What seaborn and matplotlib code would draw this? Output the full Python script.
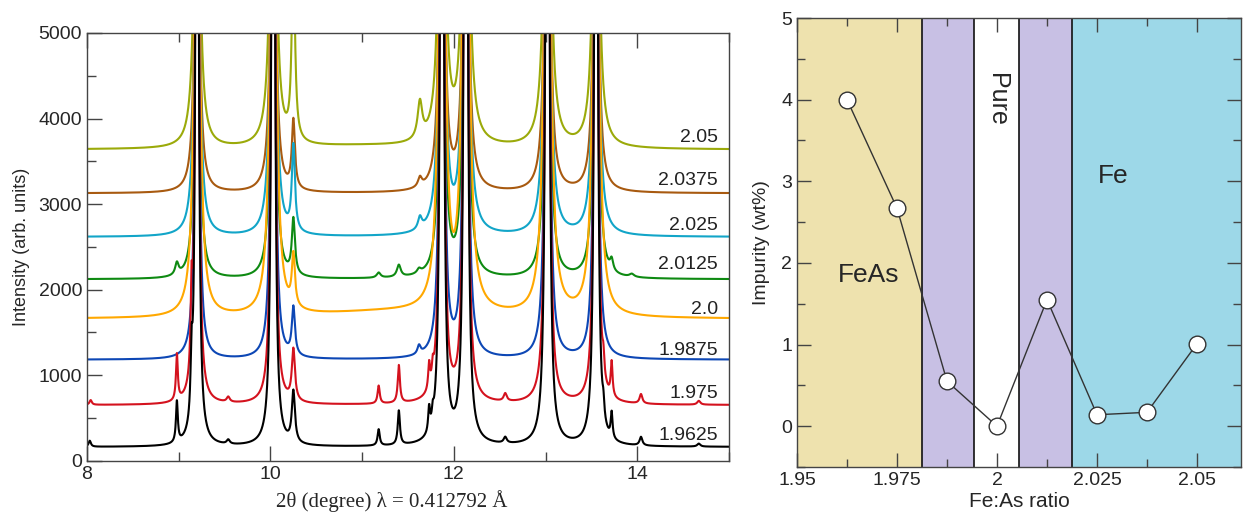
import numpy as np
import pandas as pd
import matplotlib
matplotlib.use("Agg")
import matplotlib.pyplot as plt
from matplotlib.ticker import MultipleLocator
import seaborn as sns

# ---------------- data: left panel (XRD patterns) ----------------
ratios = ["1.9625", "1.975", "1.9875", "2.0", "2.0125", "2.025", "2.0375", "2.05"]
series_colors = ["#000000", "#D4121E", "#0D47B5", "#FFA800",
                 "#0E8A12", "#12A5C8", "#A85A10", "#9BAA0A"]
baselines = [160, 650, 1180, 1655, 2120, 2615, 3125, 3635]
label_y = [300, 788, 1294, 1762, 2288, 2754, 3280, 3773]

# main-phase reflections (2theta) and relative strengths
main_pos = [9.20, 10.03, 11.87, 12.13, 13.02, 13.55]
main_rel = [0.8, 0.9, 1.0, 1.1, 1.1, 0.9]
# per-sample peak strength and core width
main_strength = [3.6, 3.6, 3.8, 8.0, 4.0, 5.0, 4.2, 6.0]
main_width = [0.014, 0.014, 0.016, 0.028, 0.02, 0.024, 0.024, 0.03]
# 10.25 reflection height per sample
peak_1025 = [600, 600, 560, 600, 650, 1000, 800, 2300]

# extra (impurity) peaks per sample: (position, height, width)
extra_peaks = [
    [(8.03, 70, 0.015), (8.98, 480, 0.012), (9.14, 650, 0.012), (9.54, 50, 0.02),
     (11.18, 190, 0.014), (11.40, 400, 0.014), (11.73, 280, 0.012), (11.77, 140, 0.012),
     (12.56, 70, 0.02), (13.63, 170, 0.012), (13.72, 300, 0.012),
     (14.04, 100, 0.018), (14.67, 35, 0.02)],
    [(8.04, 55, 0.015), (8.98, 540, 0.012), (9.14, 900, 0.012), (9.54, 60, 0.02),
     (11.18, 210, 0.014), (11.40, 440, 0.014), (11.73, 300, 0.012), (11.77, 180, 0.012),
     (12.56, 90, 0.02), (13.63, 220, 0.012), (13.72, 400, 0.012),
     (14.04, 110, 0.018), (14.67, 45, 0.02)],
    [(11.62, 100, 0.02)],
    [],
    [(8.98, 140, 0.022), (11.18, 60, 0.025), (11.40, 140, 0.025), (11.62, 50, 0.025),
     (13.72, 130, 0.02), (13.94, 35, 0.03)],
    [(11.63, 140, 0.025)],
    [(11.63, 110, 0.025)],
    [(11.63, 430, 0.03)],
]
# broad diffuse background humps: (position, height, width)
diffuse = [[], [], [], [(11.3, 80, 1.0)], [], [], [], [(11.0, 40, 1.0)]]

# ---------------- data: right panel ----------------
fe_as_ratio = [1.9625, 1.975, 1.9875, 2.0, 2.0125, 2.025, 2.0375, 2.05]
impurity = [4.0, 2.67, 0.55, 0.0, 1.55, 0.14, 0.17, 1.01]
region_edges = [1.95, 1.9812, 1.9943, 2.0055, 2.0187, 2.061]
region_colors = ["#EEE2AE", "#C8C0E4", "#FFFFFF", "#C8C0E4", "#9DD8E8"]

# ---------------- build profiles ----------------
tt = np.arange(8.0, 15.0005, 0.002)
rows = []
for i, r in enumerate(ratios):
    y = np.full_like(tt, float(baselines[i]))
    g = main_width[i]
    for p, rel in zip(main_pos, main_rel):
        y += main_strength[i] * rel / ((tt - p) ** 2 + g ** 2)
    ge = 0.02
    y += peak_1025[i] * ge ** 2 / ((tt - 10.25) ** 2 + ge ** 2)
    for p, h, w in extra_peaks[i]:
        y += h * w ** 2 / ((tt - p) ** 2 + w ** 2)
    for p, h, w in diffuse[i]:
        y += h * w ** 2 / ((tt - p) ** 2 + w ** 2)
    rows.append(pd.DataFrame({"two_theta": tt, "intensity": y, "ratio": r}))
df = pd.concat(rows, ignore_index=True)

# ---------------- style ----------------
sns.set_style("ticks")
plt.rcParams["font.family"] = ["Liberation Sans", "DejaVu Sans"]
plt.rcParams["axes.edgecolor"] = "#444444"
plt.rcParams["axes.linewidth"] = 1.0

fig = plt.figure(figsize=(12.43, 5.15), dpi=100)
ax1 = fig.add_axes([0.070, 0.1054, 0.5165, 0.8306])
ax2 = fig.add_axes([0.6412, 0.0932, 0.3572, 0.8718])

# ---------------- left panel ----------------
palette = dict(zip(ratios, series_colors))
sns.lineplot(data=df, x="two_theta", y="intensity", hue="ratio",
             hue_order=ratios[::-1], palette=palette, legend=False,
             estimator=None, sort=False, lw=1.5, ax=ax1)
ax1.set_xlim(8, 15)
ax1.set_ylim(0, 5000)
ax1.xaxis.set_major_locator(MultipleLocator(2))
ax1.xaxis.set_minor_locator(MultipleLocator(1))
ax1.yaxis.set_major_locator(MultipleLocator(1000))
ax1.yaxis.set_minor_locator(MultipleLocator(500))
ax1.tick_params(which="both", direction="in", top=True, right=False,
                labelsize=14, color="#444444")
ax1.tick_params(which="major", length=11, width=1)
ax1.tick_params(which="minor", length=6.5, width=1)
ax1.set_ylabel("Intensity (arb. units)", fontsize=13, labelpad=6)
ax1.set_xlabel("2θ (degree) λ = 0.412792 Å", fontsize=15,
               family=["Liberation Serif", "DejaVu Serif"])
ax1.xaxis.set_label_coords(0.475, -0.068)
for r, ly in zip(ratios, label_y):
    ax1.text(14.88, ly, r, ha="right", va="center", fontsize=14, color="#222222")

# ---------------- right panel ----------------
for j in range(len(region_colors)):
    ax2.axvspan(region_edges[j], region_edges[j + 1], color=region_colors[j],
                lw=0, zorder=0)
for e in region_edges[1:-1]:
    ax2.axvline(e, color="#111111", lw=1.2, zorder=1)
sns.lineplot(x=fe_as_ratio, y=impurity, color="#333333", lw=1.0, marker="o",
             markersize=12, markerfacecolor="white", markeredgecolor="#333333",
             markeredgewidth=1.0, ax=ax2, zorder=3)
ax2.set_xlim(1.95, 2.061)
ax2.set_ylim(-0.5, 5)
ax2.set_xticks([1.95, 1.975, 2.0, 2.025, 2.05])
ax2.set_xticklabels(["1.95", "1.975", "2", "2.025", "2.05"])
ax2.xaxis.set_minor_locator(MultipleLocator(0.0125))
ax2.yaxis.set_major_locator(MultipleLocator(1))
ax2.yaxis.set_minor_locator(MultipleLocator(0.5))
ax2.tick_params(which="both", direction="in", top=True, right=True,
                labelsize=14, color="#444444")
ax2.tick_params(which="major", length=10, width=1)
ax2.tick_params(which="minor", length=5.5, width=1)
ax2.set_xlabel("Fe:As ratio", fontsize=15, labelpad=2)
ax2.set_ylabel("Impurity (wt%)", fontsize=14, labelpad=8)
ax2.text(1.968, 1.85, "FeAs", fontsize=19, ha="center", va="center")
ax2.text(2.029, 3.06, "Fe", fontsize=19, ha="center", va="center")
ax2.text(2.0, 4.0, "Pure", fontsize=18, ha="center", va="center", rotation=270)
for s in ax2.spines.values():
    s.set_zorder(5)

fig.savefig("out.png", dpi=100)
